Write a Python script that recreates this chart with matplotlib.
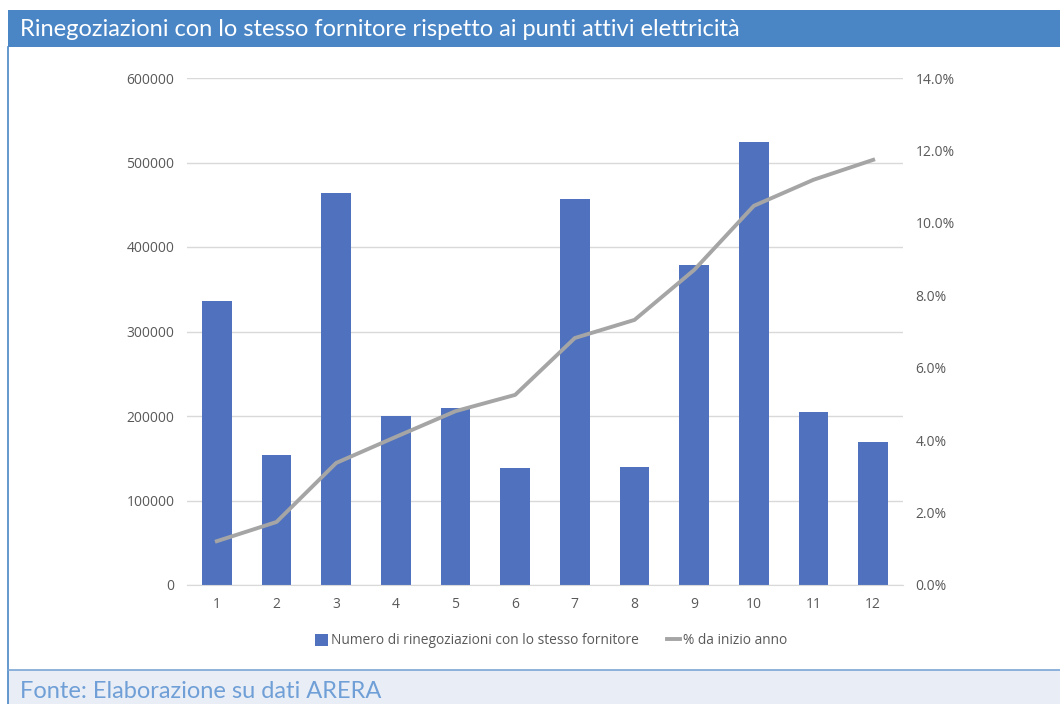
import matplotlib.pyplot as plt
from matplotlib.patches import Rectangle
from matplotlib.lines import Line2D
from matplotlib.ticker import FuncFormatter

mesi = [1, 2, 3, 4, 5, 6, 7, 8, 9, 10, 11, 12]
rinegoziazioni = [336000, 154000, 464000, 200000, 209500, 138500,
                  456800, 139600, 378700, 524300, 204700, 169200]
perc_inizio_anno = [0.0121, 0.0174, 0.0337, 0.0409, 0.0480, 0.0525,
                    0.0682, 0.0732, 0.0870, 0.1047, 0.1119, 0.1174]

titolo = "Rinegoziazioni con lo stesso fornitore rispetto ai punti attivi elettricità"
fonte = "Fonte: Elaborazione su dati ARERA"
lab_barre = "Numero di rinegoziazioni con lo stesso fornitore"
lab_linea = "% da inizio anno"

W, H = 1060, 704
blu = "#4f71be"
grigio = "#a5a5a5"
testo = "#595959"

fig = plt.figure(figsize=(W / 100, H / 100), dpi=100)
fig.patch.set_facecolor("white")

# cornice: intestazione, bordo sinistro, piede
fig.patches.append(Rectangle((8 / W, 1 - 47 / H), 1, 37 / H, transform=fig.transFigure,
                             facecolor="#4a86c6", edgecolor="none"))
fig.patches.append(Rectangle((8 / W, 0), 1, 34 / H, transform=fig.transFigure,
                             facecolor="#e8edf6", edgecolor="none"))
fig.lines.append(Line2D([8 / W, 8 / W], [0, 1 - 47 / H], transform=fig.transFigure,
                        color="#4a86c6", lw=1.2))
fig.lines.append(Line2D([8 / W, 1], [34 / H, 34 / H], transform=fig.transFigure,
                        color="#7aa5d6", lw=1.2))
fig.text(20 / W, 1 - 30 / H, titolo, color="white", fontsize=17, family="Lato",
         va="center", ha="left")
fig.text(20 / W, 1 - 692 / H, fonte, color="#6f9fd6", fontsize=17, family="Lato",
         va="center", ha="left")

ax = fig.add_axes([187 / W, (H - 585) / H, (903 - 187) / W, (585 - 78) / H])
ax.bar(mesi, rinegoziazioni, width=0.5, color=blu, zorder=2, label=lab_barre)
ax.set_xlim(0.5, 12.5)
ax.set_ylim(0, 600000)
ax.set_yticks(range(0, 600001, 100000))
ax.set_xticks(mesi)
ax.grid(axis="y", color="#d9d9d9", lw=1, zorder=0)
for s in ["top", "left", "right"]:
    ax.spines[s].set_visible(False)
ax.spines["bottom"].set_color("#d9d9d9")
ax.tick_params(axis="both", length=0, colors=testo, labelsize=10)
ax.tick_params(axis="y", pad=9)
ax.tick_params(axis="x", pad=9)

ax2 = ax.twinx()
ax2.plot(mesi, perc_inizio_anno, color=grigio, lw=2.8, zorder=3, label=lab_linea)
ax2.set_ylim(0, 0.14)
ax2.set_yticks([i * 0.02 for i in range(8)])
ax2.yaxis.set_major_formatter(FuncFormatter(lambda v, p: f"{v * 100:.1f}%"))
for s in ["top", "left", "right", "bottom"]:
    ax2.spines[s].set_visible(False)
ax2.tick_params(axis="y", length=0, colors=testo, labelsize=10, pad=9)

for t in ax.get_xticklabels() + ax.get_yticklabels() + ax2.get_yticklabels():
    t.set_family("Open Sans")

h1, l1 = ax.get_legend_handles_labels()
h2, l2 = ax2.get_legend_handles_labels()
fig.legend(h1 + h2, l1 + l2, loc="center", bbox_to_anchor=(551 / W, 1 - 641 / H),
           ncol=2, frameon=False, labelcolor=testo,
           prop={"family": "Open Sans", "size": 9.9},
           handlelength=1.0, handleheight=1.0, handletextpad=0.2, columnspacing=2.0)

fig.savefig("out.png", dpi=100)
